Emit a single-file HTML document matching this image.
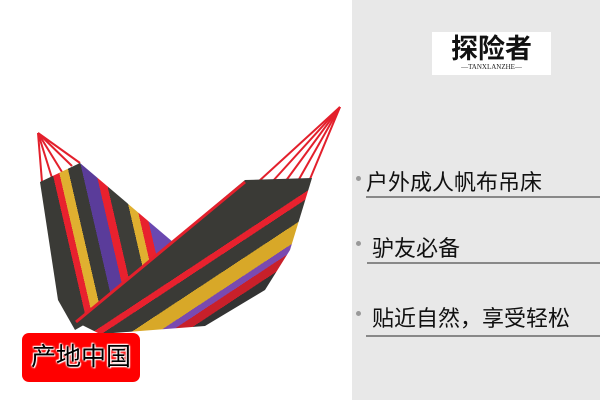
<!DOCTYPE html>
<html><head><meta charset="utf-8"><style>
body{margin:0;width:600px;height:400px;overflow:hidden;background:#fff;font-family:"Liberation Sans","Noto Sans CJK SC",sans-serif;position:relative}
.panel{position:absolute;left:352px;top:0;width:248px;height:400px;background:#e8e8e8}
.logo{position:absolute;left:432px;top:32px;width:119px;height:43px;background:#fff;text-align:center}
.logo .m{font-size:27px;font-weight:bold;color:#111;line-height:28px;margin-top:3px;letter-spacing:0px}
.logo .s{font-family:"Liberation Serif",serif;font-size:7px;color:#222;line-height:9px}
.item{position:absolute;font-size:22px;color:#111}
.dot{position:absolute;width:5px;height:5px;border-radius:50%;background:#999}
.line{position:absolute;height:2px;background:#888;right:0}
.badge{position:absolute;left:22px;top:333px;width:118px;height:49px;background:#f00;border-radius:7px;color:#000;font-size:25px;line-height:49px;text-align:center;text-shadow:0 0 2px #fff,0 0 2px #fff,1px 1px 1px #fff,-1px -1px 1px #fff}
</style></head><body>
<svg width="352" height="400" style="position:absolute;left:0;top:0">
<defs>
<linearGradient id="sb" gradientUnits="userSpaceOnUse" x1="45" y1="200" x2="175" y2="170">
<stop offset="0" stop-color="#3a3a36"/><stop offset=".1" stop-color="#3a3a36"/><stop offset=".1" stop-color="#e8212e"/><stop offset=".15" stop-color="#e8212e"/><stop offset=".15" stop-color="#e0b030"/><stop offset=".22" stop-color="#e0b030"/><stop offset=".22" stop-color="#3a3a36"/><stop offset=".32" stop-color="#3a3a36"/><stop offset=".32" stop-color="#5a3c9a"/><stop offset=".42" stop-color="#5a3c9a"/><stop offset=".42" stop-color="#e8212e"/><stop offset=".48" stop-color="#e8212e"/><stop offset=".48" stop-color="#3d3d38"/><stop offset=".6" stop-color="#3d3d38"/><stop offset=".6" stop-color="#e0b030"/><stop offset=".66" stop-color="#e0b030"/><stop offset=".66" stop-color="#e8212e"/><stop offset=".72" stop-color="#e8212e"/><stop offset=".72" stop-color="#6a48b0"/><stop offset="1" stop-color="#6a48b0"/>
</linearGradient>
<linearGradient id="sf" gradientUnits="userSpaceOnUse" x1="160" y1="250" x2="218" y2="338">
<stop offset="0" stop-color="#3a3a36"/><stop offset=".3" stop-color="#3a3a36"/><stop offset=".3" stop-color="#e8212e"/><stop offset=".36" stop-color="#e8212e"/><stop offset=".36" stop-color="#3a3a36"/><stop offset=".5" stop-color="#3a3a36"/><stop offset=".5" stop-color="#d8a828"/><stop offset=".64" stop-color="#d8a828"/><stop offset=".64" stop-color="#7a4ab0"/><stop offset=".7" stop-color="#7a4ab0"/><stop offset=".7" stop-color="#c8202a"/><stop offset=".78" stop-color="#c8202a"/><stop offset=".78" stop-color="#333"/><stop offset="1" stop-color="#333"/>
</linearGradient>
</defs>
<g stroke="#e3202c" stroke-width="2">
<line x1="38" y1="133" x2="42" y2="182"/><line x1="38" y1="133" x2="52" y2="178"/><line x1="38" y1="133" x2="62" y2="172"/><line x1="38" y1="133" x2="72" y2="166"/><line x1="38" y1="133" x2="80" y2="163"/>
<line x1="340" y1="107" x2="258" y2="182"/><line x1="340" y1="107" x2="272" y2="182"/><line x1="340" y1="107" x2="285" y2="182"/><line x1="340" y1="107" x2="298" y2="181"/><line x1="340" y1="107" x2="310" y2="179"/>
</g>
<polygon points="40,182 80,163 180,248 110,310 75,330 58,300" fill="url(#sb)"/>
<polygon points="76,322 245,180 312,178 290,250 265,290 205,326 100,334" fill="url(#sf)"/>
<line x1="76" y1="322" x2="245" y2="182" stroke="#e3202c" stroke-width="3"/>
</svg>
<div class="panel"></div>
<div class="logo"><div class="m">探险者</div><div class="s">—TANXLANZHE—</div></div>
<div class="dot" style="left:356px;top:176px"></div>
<div class="item" style="left:366px;top:165px">户外成人帆布吊床</div>
<div class="line" style="left:366px;top:196px"></div>
<div class="dot" style="left:356px;top:241px"></div>
<div class="item" style="left:372px;top:231px">驴友必备</div>
<div class="line" style="left:367px;top:262px"></div>
<div class="dot" style="left:356px;top:311px"></div>
<div class="item" style="left:372px;top:301px">贴近自然，享受轻松</div>
<div class="line" style="left:366px;top:335px"></div>
<div class="badge">产地中国</div>
</body></html>
